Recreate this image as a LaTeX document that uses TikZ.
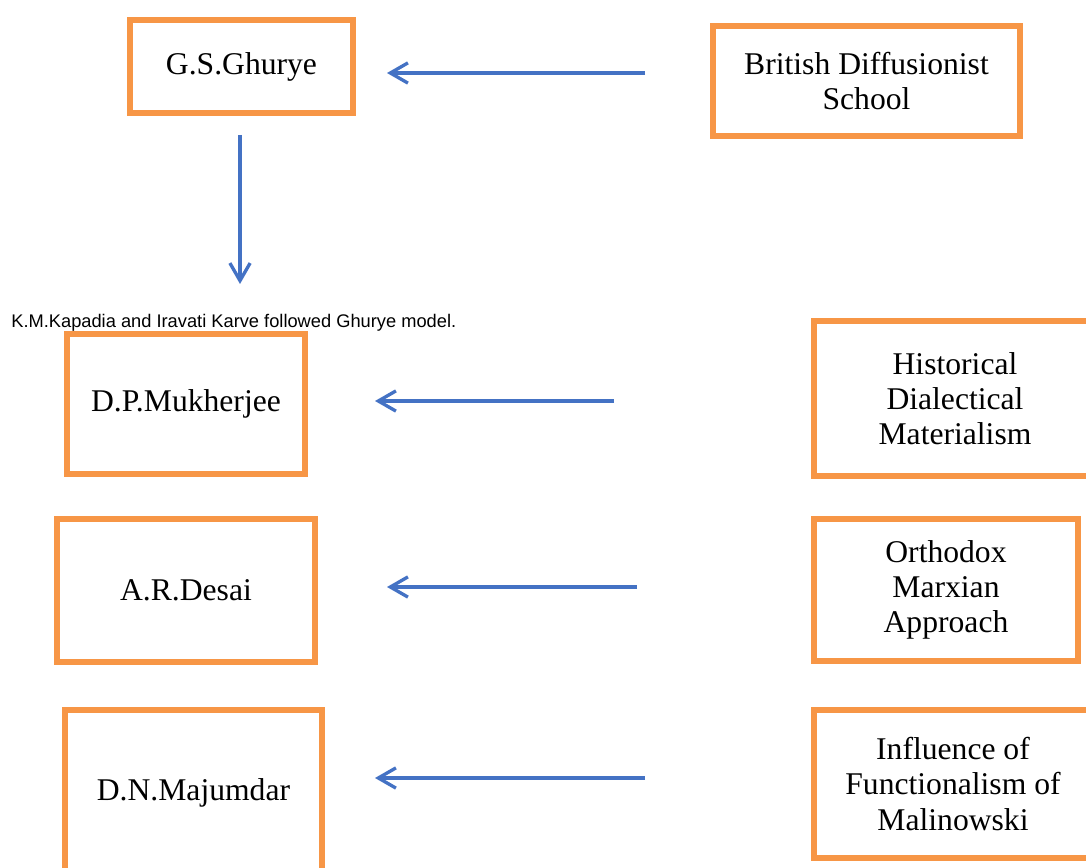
\documentclass[tikz,border=0pt]{standalone}
\usepackage{fontspec}
\setmainfont{Liberation Serif}
\newfontfamily\arialfont{Liberation Sans}
\usetikzlibrary{arrows.meta}

\definecolor{boxorange}{RGB}{247,150,70}
\definecolor{arrowblue}{RGB}{68,114,196}

\tikzset{
	idea/.style={draw=boxorange, line width=2.9pt, align=center, inner sep=0pt,
		font=\fontsize{18}{20}\selectfont},
	arr/.style={draw=arrowblue, line width=1.9pt, -{Straight Barb[length=10pt,width=11.5pt]}}
}

\begin{document}
\begin{tikzpicture}[x=0.02cm, y=-0.02cm]
	
	\useasboundingbox (0,0) rectangle (1086,868);
	\clip (0,0) rectangle (1086,868);
	
	\node[idea, minimum width=4.46cm, minimum height=1.86cm] (ghurye) at (241.5,66.5) {G.S.Ghurye};
	\node[idea, minimum width=6.14cm, minimum height=2.2cm] (british) at (866.5,81) {British Diffusionist\\School};
	
	\node[idea, minimum width=4.76cm, minimum height=2.8cm] (mukherjee) at (186,404) {D.P.Mukherjee};
	\node[idea, minimum width=5.64cm, minimum height=3.1cm] (historical) at (955,398.5) {Historical\\Dialectical\\Materialism};
	
	\node[idea, minimum width=5.16cm, minimum height=2.86cm] (desai) at (186,590.5) {A.R.Desai};
	\node[idea, minimum width=5.28cm, minimum height=2.84cm] (orthodox) at (946,590) {Orthodox\\Marxian\\Approach};
	
	\node[idea, minimum width=5.14cm, minimum height=3.32cm] (majumdar) at (193.5,793) {D.N.Majumdar};
	\node[idea, minimum width=5.56cm, minimum height=2.96cm] (influence) at (953,784) {Influence of\\Functionalism of\\Malinowski};
	
	\node[anchor=base west, inner sep=0pt, font=\arialfont\fontsize{10.4}{12}\selectfont] (kapadia) at (11,328)
		{K.M.Kapadia and Iravati Karve followed Ghurye model.};
	
	% arrow ends
	\coordinate (s1) at (645,73);
	\coordinate (e1) at (387,73);
	\coordinate (s2) at (240,135);
	\coordinate (e2) at (240,284);
	\coordinate (s3) at (614,401);
	\coordinate (e3) at (375,401);
	\coordinate (s4) at (637,587);
	\coordinate (e4) at (387,587);
	\coordinate (s5) at (645,778);
	\coordinate (e5) at (375,778);
	
	\foreach \i in {1,...,5}
		\draw[arr] (s\i) -- (e\i);
	
\end{tikzpicture}
\end{document}
